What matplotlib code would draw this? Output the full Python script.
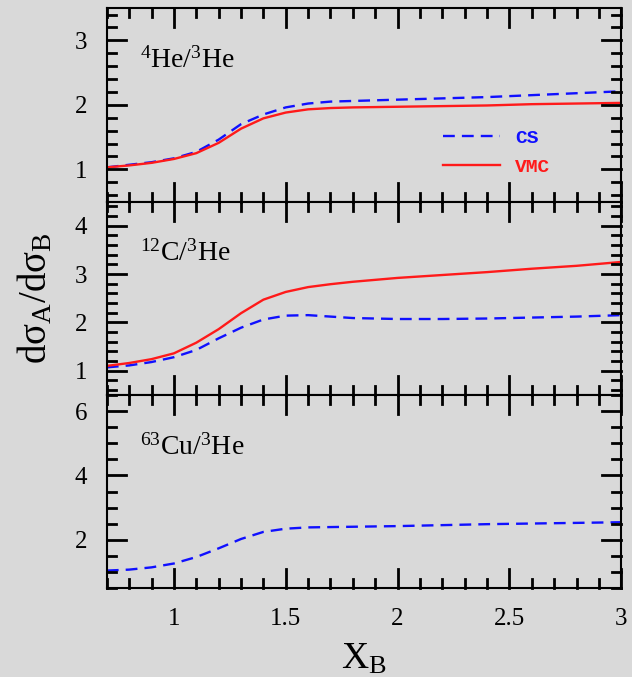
import matplotlib
matplotlib.use("Agg")
import matplotlib.pyplot as plt
from matplotlib.ticker import MultipleLocator, FormatStrFormatter
from matplotlib.lines import Line2D

x_b = [0.7, 0.8, 0.9, 1.0, 1.1, 1.2, 1.3, 1.4, 1.5, 1.6, 1.7, 1.8, 2.0, 2.2, 2.4, 2.6, 2.8, 3.0]

he4_cs = [1.03, 1.07, 1.11, 1.17, 1.27, 1.46, 1.70, 1.85, 1.96, 2.02, 2.05, 2.06, 2.08, 2.10, 2.12, 2.15, 2.18, 2.21]
he4_vmc = [1.03, 1.06, 1.10, 1.16, 1.25, 1.41, 1.63, 1.79, 1.88, 1.93, 1.95, 1.96, 1.97, 1.98, 1.99, 2.01, 2.02, 2.03]

c12_cs = [1.07, 1.11, 1.18, 1.28, 1.43, 1.67, 1.89, 2.06, 2.14, 2.15, 2.12, 2.09, 2.07, 2.07, 2.08, 2.10, 2.12, 2.15]
c12_vmc = [1.10, 1.16, 1.24, 1.36, 1.58, 1.86, 2.19, 2.47, 2.63, 2.73, 2.79, 2.84, 2.92, 2.98, 3.04, 3.11, 3.17, 3.25]

cu63_cs = [1.05, 1.08, 1.15, 1.27, 1.47, 1.74, 2.03, 2.25, 2.35, 2.39, 2.40, 2.41, 2.43, 2.46, 2.49, 2.51, 2.53, 2.55]

panel_labels = [r'$^{4}$He/$^{3}$He', r'$^{12}$C/$^{3}$He', r'$^{63}$Cu/$^{3}$He']
ylims = [(0.5, 3.5), (0.5, 4.5), (0.5, 6.5)]
major_y = [1, 1, 2]
minor_y = [0.2, 0.2, 0.5]

plt.rcParams['font.family'] = ['Liberation Serif', 'DejaVu Serif']
plt.rcParams['mathtext.fontset'] = 'custom'
plt.rcParams['mathtext.rm'] = 'Liberation Serif'
plt.rcParams['mathtext.it'] = 'Liberation Serif:italic'

fig = plt.figure(figsize=(6.32, 6.77), dpi=100)
axes = fig.subplots(3, 1, sharex=True)
fig.subplots_adjust(left=0.169, right=0.983, top=0.988, bottom=0.131, hspace=0)

blue = '#1010ff'
red = '#ff1a1a'
dash = (0, (5, 3))


def in_range(locs, lo, hi):
    return [v for v in locs if lo - 1e-9 <= v <= hi + 1e-9]


def draw_ticks(ax, maj_len=19, min_len=9, lw=2.0):
    # inward ticks on all four sides, drawn as plain lines in figure coords
    bb = ax.get_position()
    W = fig.get_figwidth() * fig.dpi
    H = fig.get_figheight() * fig.dpi
    x0, x1 = ax.get_xlim()
    y0, y1 = ax.get_ylim()
    left, right = bb.x0, bb.x1
    bottom, top = bb.y0, bb.y1
    for locs, L in ((in_range(ax.xaxis.get_majorticklocs(), x0, x1), maj_len),
                    (in_range(ax.xaxis.get_minorticklocs(), x0, x1), min_len)):
        for x in locs:
            fx = left + (x - x0) / (x1 - x0) * (right - left)
            fig.add_artist(Line2D([fx, fx], [bottom, bottom + L / H], color='black', lw=lw, zorder=10))
            fig.add_artist(Line2D([fx, fx], [top, top - L / H], color='black', lw=lw, zorder=10))
    for locs, L in ((in_range(ax.yaxis.get_majorticklocs(), y0, y1), maj_len),
                    (in_range(ax.yaxis.get_minorticklocs(), y0, y1), min_len)):
        for y in locs:
            fy = bottom + (y - y0) / (y1 - y0) * (top - bottom)
            fig.add_artist(Line2D([left, left + L / W], [fy, fy], color='black', lw=lw, zorder=10))
            fig.add_artist(Line2D([right, right - L / W], [fy, fy], color='black', lw=lw, zorder=10))


axes[0].plot(x_b, he4_cs, color=blue, lw=1.7, ls=dash, label='CS')
axes[0].plot(x_b, he4_vmc, color=red, lw=1.7, label='VMC')
axes[1].plot(x_b, c12_cs, color=blue, lw=1.7, ls=dash)
axes[1].plot(x_b, c12_vmc, color=red, lw=1.7)
axes[2].plot(x_b, cu63_cs, color=blue, lw=1.7, ls=dash)

for i, ax in enumerate(axes):
    ax.set_facecolor('#d9d9d9')
    ax.set_xlim(0.7, 3.0)
    ax.set_ylim(*ylims[i])
    ax.xaxis.set_major_locator(MultipleLocator(0.5))
    ax.xaxis.set_minor_locator(MultipleLocator(0.1))
    ax.xaxis.set_major_formatter(FormatStrFormatter('%g'))
    ax.yaxis.set_major_locator(MultipleLocator(major_y[i]))
    ax.yaxis.set_minor_locator(MultipleLocator(minor_y[i]))
    ax.tick_params(axis='both', which='both', length=0, labelsize=18)
    ax.tick_params(axis='y', pad=14)
    for s in ax.spines.values():
        s.set_linewidth(1.5)
    ax.text(0.065, 0.73, panel_labels[i], transform=ax.transAxes, fontsize=20, va='center')

for ax in axes:
    draw_ticks(ax)

axes[2].tick_params(axis='x', pad=14)
axes[2].set_xlabel(r'X$_\mathrm{B}$', fontsize=27, labelpad=9)
axes[1].set_ylabel('dσ$_\\mathrm{A}$/dσ$_\\mathrm{B}$', fontsize=28, labelpad=14)

leg = axes[0].legend(loc='upper left', bbox_to_anchor=(0.639, 0.412), frameon=False,
                     handlelength=2.9, handletextpad=0.78, labelspacing=0.55,
                     labelcolor='linecolor', borderaxespad=0,
                     prop={'family': 'Liberation Mono', 'weight': 'bold', 'size': 14})

fig.savefig('out.png', dpi=100, facecolor='#d9d9d9')
